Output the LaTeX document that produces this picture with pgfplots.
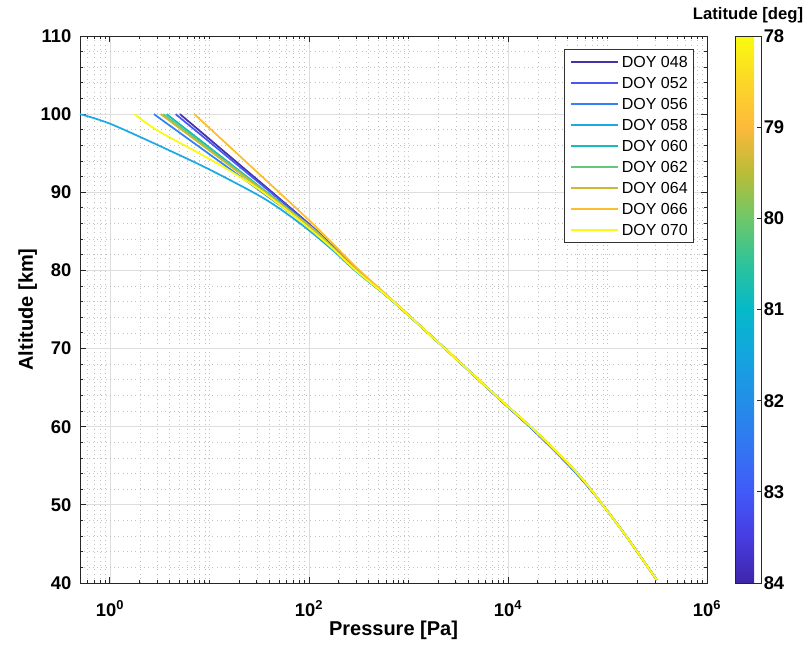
\documentclass[border=0pt]{standalone}
\usepackage{fontspec}
\setmainfont{Liberation Sans}
\usepackage{pgfplots}
\pgfplotsset{compat=1.18}
\definecolor{c048}{RGB}{68,50,170}
\definecolor{c052}{RGB}{74,86,240}
\definecolor{c056}{RGB}{50,130,245}
\definecolor{c058}{RGB}{30,168,228}
\definecolor{c060}{RGB}{18,190,185}
\definecolor{c062}{RGB}{100,200,120}
\definecolor{c064}{RGB}{205,185,50}
\definecolor{c066}{RGB}{253,190,45}
\definecolor{c070}{RGB}{250,250,20}
\pgfplotsset{
  colormap={parulaR}{rgb255(0cm)=(249,251,14) rgb255(1cm)=(252,215,40) rgb255(2cm)=(253,185,60) rgb255(3cm)=(185,188,55) rgb255(4cm)=(110,200,105) rgb255(5cm)=(45,195,155) rgb255(6cm)=(5,185,200) rgb255(7cm)=(20,165,222) rgb255(8cm)=(35,142,232) rgb255(9cm)=(50,118,242) rgb255(10cm)=(65,90,248) rgb255(11cm)=(72,60,225) rgb255(12cm)=(62,38,168)}
}
\begin{document}
\begin{tikzpicture}
\begin{axis}[
  name=main,
  scale only axis,
  width=470.25pt, height=410.25pt,
  xmode=log, log basis x=10,
  xmin=0.5, xmax=1e6, ymin=40, ymax=110,
  xtick={1,100,10000,1000000},
  xticklabels={10\textsuperscript{0},10\textsuperscript{2},10\textsuperscript{4},10\textsuperscript{6}},
  minor xtick={0.5,0.6,0.7,0.8,0.9,2,3,4,5,6,7,8,9,10,20,30,40,50,60,70,80,90,200,300,400,500,600,700,800,900,1000,2000,3000,4000,5000,6000,7000,8000,9000,20000,30000,40000,50000,60000,70000,80000,90000,100000,200000,300000,400000,500000,600000,700000,800000,900000},
  ytick={40,50,...,110},
  minor y tick num=4,
  grid=both,
  major grid style={black!13, line width=0.6pt},
  minor grid style={black!24, line width=0.6pt, dash pattern=on 0.6pt off 2.6pt},
  axis line style={black!85, line width=0.7pt},
  tick style={black!85, line width=0.7pt},
  major tick length=4.5pt, minor tick length=2.5pt,
  tick align=inside,
  /pgf/number format/assume math mode=true,
  ticklabel style={font=\fontsize{13.8}{13.8}\selectfont\bfseries},
  yticklabel style={xshift=-3pt},
  xticklabel style={anchor=base, yshift=-25pt},
  xlabel={Pressure [Pa]}, ylabel={Altitude [km]},
  label style={font=\fontsize{15}{15}\selectfont\bfseries},
  xlabel style={at={(axis description cs:0.5,-0.096)}, anchor=base},
  ylabel style={at={(axis description cs:-0.075,0.5)}, anchor=base},
  colormap name=parulaR,
  point meta min=78, point meta max=84,
  colorbar,
  colorbar style={
    at={(parent axis.north east)}, anchor=north west, xshift=12.5pt,
    scale only axis,
    width=19.5pt,
    y dir=reverse,
    ytick={78,79,80,81,82,83,84},
    ytick pos=right, yticklabel pos=right,
    tick align=inside,
    major tick length=3pt,
    tick style={black!85, line width=0.7pt},
    axis line style={black!85, line width=0.7pt},
    /pgf/number format/assume math mode=true,
    yticklabel style={font=\fontsize{13.8}{13.8}\selectfont\bfseries, xshift=-1.5pt},
    title={Latitude [deg]},
    title style={font=\fontsize{12.5}{12.5}\selectfont\bfseries, at={(0.5,1)}, anchor=base, yshift=6.75pt},
  },
  legend style={
    at={(1,1)}, anchor=north east, xshift=-9.75pt, yshift=-9.75pt,
    font=\fontsize{12}{12}\selectfont,
    draw=black!80, line width=0.5pt, fill=white,
    inner xsep=2.25pt, inner ysep=1.5pt,
    row sep=0pt,
    nodes={inner xsep=2.25pt, inner ysep=3.5pt, text height=8.75pt, text depth=0pt},
  },
  legend cell align=left,
  legend image code/.code={\path (0pt,0pt); \draw[#1, line width=1.5pt] (2.25pt,0pt) -- (37.5pt,0pt);},
  every axis plot/.append style={line width=1.3pt, line join=round, smooth, tension=0.5},
]
\addplot[color=c048] coordinates {(5.058,100) (81.28,86.96) (162.6,83.45) (301.3,80.15) (691.8,76.12) (2328,70.0) (8318,63.45) (16900,59.9) (28184,57.15) (44668,54.55) (63096,52.4) (90780,49.9) (156000,45.9) (311900,40.4)};
\addlegendentry{DOY 048}
\addplot[color=c052] coordinates {(4.571,100) (81.28,86.88) (162.6,83.4) (301.3,80.1) (691.8,76.12) (2328,70.0) (8318,63.45) (16900,59.9) (28184,57.15) (44668,54.55) (63096,52.4) (90780,49.9) (156000,45.9) (311900,40.4)};
\addlegendentry{DOY 052}
\addplot[color=c056] coordinates {(2.767,100) (81.28,86.45) (162.6,83.2) (301.3,79.95) (691.8,76.1) (2328,70.0) (8318,63.45) (16900,59.9) (28184,57.15) (44668,54.55) (63096,52.4) (90780,49.9) (156000,45.9) (311900,40.4)};
\addlegendentry{DOY 056}
\addplot[color=c058] coordinates {(0.5,100) (1.079,98.61) (6.368,94.13) (16.07,91.57) (37.58,89.0) (81.28,86.03) (162.6,82.9) (301.3,79.8) (691.8,76.05) (2328,70.0) (8318,63.5) (16900,59.95) (28184,57.2) (44668,54.6) (63096,52.45) (90780,49.9) (156000,45.9) (311900,40.4)};
\addlegendentry{DOY 058}
\addplot[color=c060] coordinates {(3.715,100) (81.28,86.67) (162.6,83.3) (301.3,80.0) (691.8,76.1) (2328,70.0) (8318,63.5) (16900,60.0) (28184,57.3) (44668,54.7) (63096,52.5) (90780,49.9) (156000,45.9) (311900,40.4)};
\addlegendentry{DOY 060}
\addplot[color=c062] coordinates {(3.436,100) (81.28,86.67) (162.6,83.3) (301.3,80.0) (691.8,76.1) (2328,70.0) (8318,63.5) (16900,60.0) (28184,57.3) (44668,54.7) (63096,52.5) (90780,49.9) (156000,45.9) (311900,40.4)};
\addlegendentry{DOY 062}
\addplot[color=c064] coordinates {(3.236,100) (81.28,86.62) (162.6,83.25) (301.3,80.0) (691.8,76.1) (2328,70.0) (8318,63.5) (16900,60.0) (28184,57.3) (44668,54.7) (63096,52.5) (90780,49.9) (156000,45.9) (311900,40.4)};
\addlegendentry{DOY 064}
\addplot[color=c066] coordinates {(7.047,100) (81.28,87.51) (162.6,83.8) (301.3,80.35) (691.8,76.2) (2328,70.0) (8318,63.5) (16900,60.0) (28184,57.3) (44668,54.7) (63096,52.5) (90780,49.9) (156000,45.9) (311900,40.4)};
\addlegendentry{DOY 066}
\addplot[color=c070] coordinates {(1.758,100) (2.944,97.97) (6.368,95.63) (13.77,93.27) (32.21,90.29) (81.28,86.36) (162.6,83.1) (301.3,79.9) (691.8,76.1) (2328,70.0) (8318,63.5) (16900,60.0) (28184,57.3) (44668,54.7) (63096,52.5) (90780,49.9) (156000,45.9) (311900,40.4)};
\addlegendentry{DOY 070}
\end{axis}
\pgfresetboundingbox
\path[use as bounding box] (-60pt,-50.25pt) rectangle ++(603.75pt,487.5pt);
\end{tikzpicture}
\end{document}
